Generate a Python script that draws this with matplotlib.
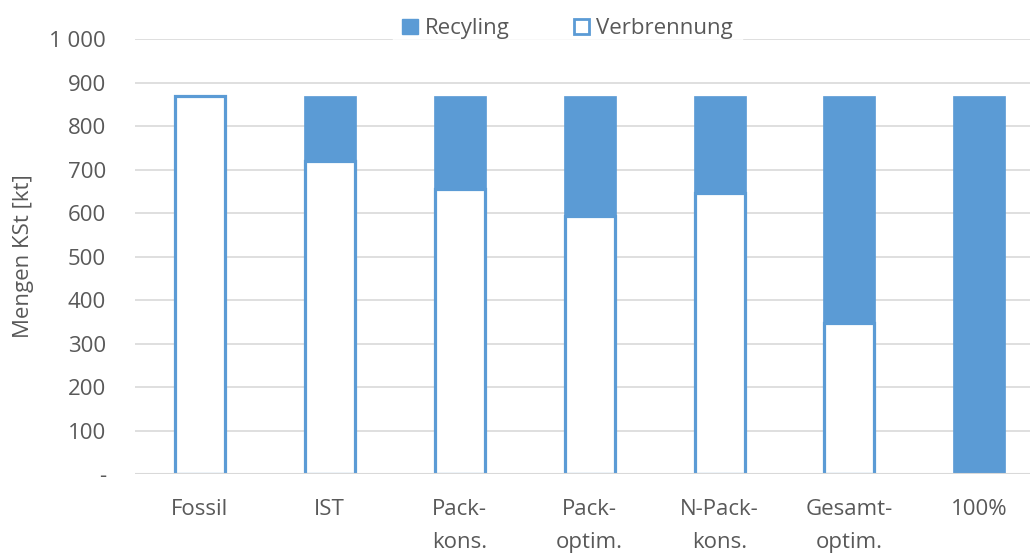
import matplotlib
matplotlib.use("Agg")
import matplotlib.pyplot as plt
from matplotlib.patches import Patch

categories = ["Fossil", "IST", "Pack-\nkons.", "Pack-\noptim.", "N-Pack-\nkons.", "Gesamt-\noptim.", "100%"]
verbrennung = [870, 720, 655, 593, 647, 348, 0]
recycling = [0, 150, 215, 277, 223, 522, 870]
yticks = [0, 100, 200, 300, 400, 500, 600, 700, 800, 900, 1000]
ytick_labels = ["-", "100", "200", "300", "400", "500", "600", "700", "800", "900", "1 000"]

blue = "#5B9BD5"
grey = "#595959"
fs = 16
plt.rcParams["font.family"] = ["Open Sans", "DejaVu Sans"]

fig = plt.figure(figsize=(10.30, 5.54), dpi=100)
ax = fig.add_axes([0.131, 0.1444, 0.869, 0.7852])

x = list(range(len(categories)))
ax.bar(x, recycling, width=0.4, bottom=verbrennung, color=blue, edgecolor=blue,
       linewidth=0.5, zorder=2)
ax.bar([i for i, v in zip(x, verbrennung) if v > 0],
       [v for v in verbrennung if v > 0], width=0.385, color="white",
       edgecolor=blue, linewidth=2.3, zorder=3)
# bottom gridline drawn over the bar bases
ax.axhline(0, color="#d9d9d9", linewidth=1.5, zorder=4)

ax.set_xlim(-0.5, 6.39)
ax.set_ylim(0, 1000)
ax.set_yticks(yticks)
ax.set_yticklabels(ytick_labels)
ax.set_xticks(x)
ax.set_xticklabels(categories, linespacing=1.75, va="top")
ax.tick_params(axis="both", length=0, labelsize=fs, colors=grey)
ax.tick_params(axis="x", pad=18)
ax.tick_params(axis="y", pad=21)
ax.grid(axis="y", color="#d9d9d9", linewidth=1.2, zorder=0)
ax.set_axisbelow(True)
for s in ax.spines.values():
    s.set_visible(False)
ax.set_ylabel("Mengen KSt [kt]", fontsize=fs, color=grey)
ax.yaxis.set_label_coords(-0.113, 0.5)

handles = [Patch(facecolor=blue, edgecolor=blue, label="Recyling"),
           Patch(facecolor="white", edgecolor=blue, linewidth=2, label="Verbrennung")]
leg = fig.legend(handles=handles, loc="center", bbox_to_anchor=(0.551, 0.948), ncol=2,
                 frameon=True, fontsize=fs, handlelength=0.7, handleheight=0.7,
                 handletextpad=0.3, columnspacing=2.9, borderpad=0.4)
leg.get_frame().set_facecolor("white")
leg.get_frame().set_edgecolor("white")
leg.get_frame().set_boxstyle("square", pad=0.0)
for t in leg.get_texts():
    t.set_color(grey)

fig.savefig("out.png", dpi=100)
